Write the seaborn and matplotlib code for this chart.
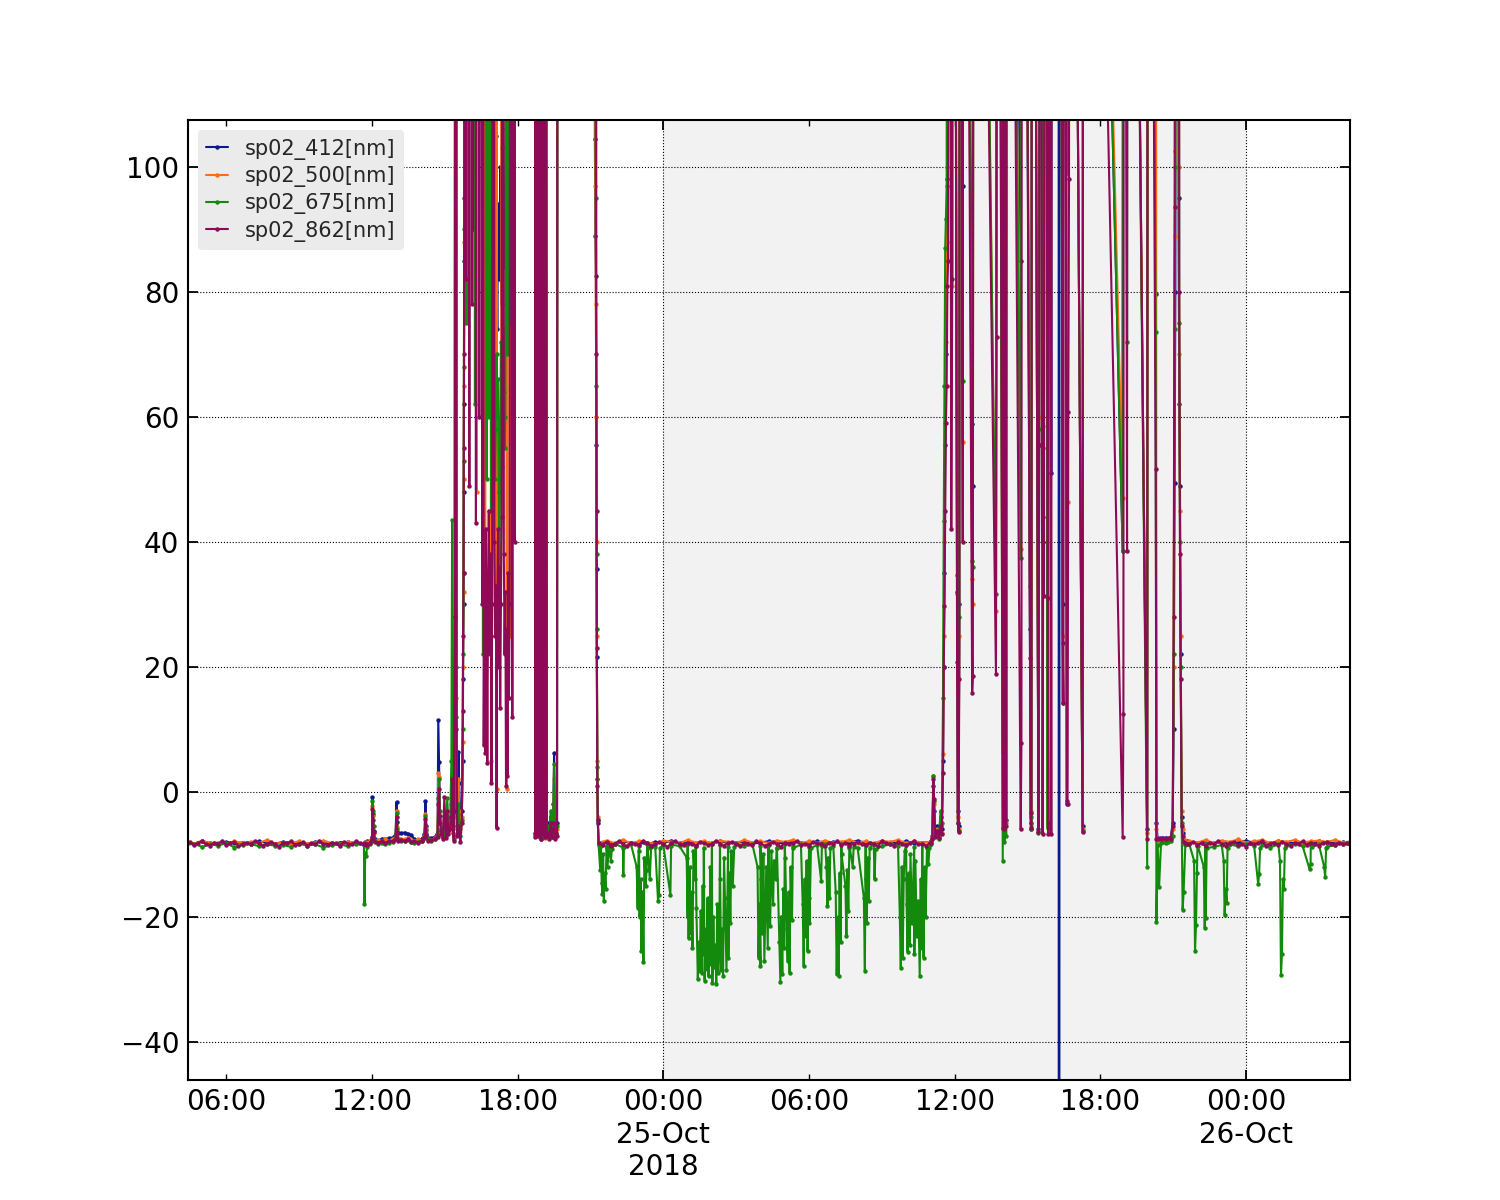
import matplotlib
matplotlib.use("Agg")
import matplotlib.pyplot as plt
import matplotlib.dates as mdates
import pandas as pd
import seaborn as sns

sns.set_style("ticks")
plt.rcParams["font.family"] = ["DejaVu Sans"]

# ------------------------------------------------------------------
# data (hours are counted from 2018-10-24 00:00, 300 = off-scale high)
# ------------------------------------------------------------------
DAY0 = pd.Timestamp("2018-10-24 00:00")
channels = ["sp02_412[nm]", "sp02_500[nm]", "sp02_675[nm]", "sp02_862[nm]"]
colors = ["#0a1a8c", "#ff6a13", "#138a0c", "#8e0a57"]

# quiet baseline stretches (862 sampled every 10 min, the rest every 20 min)
start_24am = "2018-10-24 04:20"
start_night = "2018-10-24 21:20"
start_25pm = "2018-10-25 21:40"

sp862_24am = [-8.3, -8.0, -8.5, -8.2, -7.9, -8.4, -8.6, -8.1, -8.3, -7.8,
              -8.5, -8.2, -8.0, -8.7, -8.3, -8.1, -8.4, -7.9, -8.2, -8.6,
              -8.3, -8.0, -8.4, -8.8, -8.1, -8.2, -7.9, -8.5, -8.3, -8.0,
              -8.6, -8.2, -8.4, -7.8, -8.3, -8.5, -8.1, -8.2, -8.7, -8.0,
              -8.3, -8.4, -7.9, -8.2, -8.3]
sp412_24am = [-8.1, -8.3, -7.9, -8.2, -8.4, -8.0, -8.2, -8.1, -8.3, -7.9,
              -8.2, -8.3, -8.0, -8.2, -8.1, -8.4, -8.0, -8.2, -8.3, -8.1,
              -8.0, -8.2, -8.3]
sp500_24am = [-8.0, -8.3, -7.8, -8.2, -8.1, -8.4, -7.9, -8.2, -8.0, -8.2,
              -7.7, -8.3, -8.1, -8.2, -7.9, -8.3, -8.1, -7.8, -8.2, -8.3,
              -8.0, -8.1, -8.2]
sp675_24am = [-8.5, -8.3, -8.8, -8.4, -8.6, -8.2, -8.9, -8.5, -8.3, -8.7,
              -8.4, -8.6, -8.5, -8.8, -8.3, -8.6, -8.4, -8.9, -8.5, -8.4,
              -8.7, -8.3, -8.5]

sp862_night = [-8.2, -8.5, -8.0, -8.6, -8.3, -7.9, -8.4, -8.7, -8.1, -8.3,
               -8.5, -7.8, -8.2, -8.6, -8.4, -8.0, -8.3, -8.8, -8.2, -7.9,
               -8.4, -8.5, -8.1, -8.3, -8.7, -8.0, -8.2, -8.5, -8.4, -7.8,
               -8.3, -8.6, -8.2, -8.0, -8.4, -8.7, -8.1, -8.3, -8.5, -7.9,
               -8.2, -8.6, -8.4, -8.0, -8.3, -8.8, -8.1, -8.4, -8.2, -7.9,
               -8.5, -8.3, -8.6, -8.0, -8.2, -8.4, -8.7, -8.1, -8.3, -7.8,
               -8.5, -8.2, -8.6, -8.3, -8.0, -8.4, -8.5, -8.1, -8.3, -8.7,
               -7.9, -8.2, -8.4, -8.6, -8.0, -8.3, -8.5, -8.2, -7.9, -8.4,
               -8.3, -8.6, -8.1]
sp412_night = [-8.2, -8.0, -8.3, -7.9, -8.2, -8.1, -8.4, -8.0, -8.2, -7.8,
               -8.2, -8.1, -8.3, -8.0, -8.2, -7.9, -8.2, -8.1, -8.0, -8.3,
               -8.1, -7.9, -8.2, -8.2, -8.0, -8.1, -8.3, -7.9, -8.2, -8.0,
               -8.2, -8.1, -7.8, -8.2, -8.3, -8.0, -8.1, -8.2, -7.9, -8.2,
               -8.1, -8.0]
sp500_night = [-8.1, -7.8, -8.2, -7.7, -8.2, -7.9, -8.1, -8.3, -7.8, -8.0,
               -8.2, -7.7, -8.1, -7.9, -8.2, -7.8, -8.0, -8.2, -7.7, -8.1,
               -7.9, -8.2, -7.8, -8.0, -7.7, -8.2, -7.9, -8.1, -7.8, -8.2,
               -8.0, -7.7, -8.1, -7.9, -8.2, -7.8, -8.0, -7.7, -8.2, -7.9,
               -8.1, -8.0]
sp675_night = [-8.5, -8.7, -8.3, -8.9, -8.4, -8.6, -8.2, -8.8, -8.5, -8.4,
               -8.7, -8.3, -8.6, -8.9, -8.4, -8.5, -8.8, -8.3, -8.6, -8.4,
               -8.7, -8.5, -8.9, -8.3, -8.6, -8.4, -8.8, -8.5, -8.3, -8.7,
               -8.4, -8.6, -8.9, -8.5, -8.3, -8.7, -8.4, -8.6, -8.5, -8.8,
               -8.4, -8.5]

sp862_25pm = [-8.3, -8.0, -8.5, -8.2, -8.7, -8.1, -8.4, -7.9, -8.3, -8.6,
              -8.2, -8.0, -8.5, -8.3, -8.8, -8.1, -8.4, -8.2, -7.9, -8.6,
              -8.3, -8.1, -8.5, -8.0, -8.4, -8.7, -8.2, -8.3, -7.9, -8.5,
              -8.1, -8.4, -8.6, -8.2, -8.0, -8.3, -8.5, -8.1, -8.4, -8.2, -8.3]
sp412_25pm = [-8.1, -8.2, -7.9, -8.2, -8.0, -8.3, -8.1, -7.8, -8.2, -8.0,
              -8.2, -7.9, -8.1, -8.2, -8.0, -8.3, -7.9, -8.1, -8.2, -8.0, -8.1]
sp500_25pm = [-7.9, -8.1, -7.7, -8.2, -7.8, -8.0, -7.6, -8.1, -7.9, -7.7,
              -8.2, -7.8, -8.0, -7.7, -8.1, -7.9, -7.8, -8.0, -7.7, -8.1, -7.9]
sp675_25pm = [-8.4, -8.6, -8.3, -8.8, -8.5, -8.4, -8.7, -8.3, -8.6, -8.5,
              -8.9, -8.4, -8.6, -8.3, -8.7, -8.5, -8.4, -8.8, -8.5, -8.3, -8.6]

# 24-Oct midday bumps and first cloud burst
hours_24pm = [11.69, 11.72, 11.75, 11.80, 11.90, 12.00, 12.02, 12.04, 12.07, 12.12,
              12.25, 12.40, 12.55, 12.70, 12.85, 12.97, 13.01, 13.04, 13.08, 13.20,
              13.35, 13.50, 13.62, 13.75, 13.90, 14.05, 14.16, 14.20, 14.24, 14.30,
              14.45, 14.60, 14.70, 14.73, 14.76, 14.80, 14.86, 14.92, 14.98, 15.04,
              15.10, 15.15, 15.22, 15.27, 15.30, 15.33, 15.37, 15.41, 15.43, 15.46,
              15.48, 15.51, 15.56, 15.59, 15.64, 15.70, 15.74, 15.75, 15.77, 15.78,
              15.79, 15.80, 15.82]
sp412_24pm = [-8.1, -8.0, -8.2, -7.9, -8.0, -7.2, -0.8, -3.5, -6.2, -7.6,
              -7.8, -7.5, -7.6, -7.4, -7.3, -6.8, -1.6, -4.8, -6.5, -6.6,
              -6.5, -6.7, -6.9, -7.6, -7.7, -7.5, -6.8, -1.5, -5.4, -7.3,
              -7.4, -7.2, -6.4, 11.5, 4.8, -3.8, -6.0, -6.8, -5.5, -6.5,
              -4.0, -6.2, -5.0, -3.0, -2.0, -5.5, -7.0, -3.0, 300, 300,
              20.0, -4.0, 6.4, 1.5, -5.0, -3.0, 5.0, 18, 30, 48,
              62, 85, 300]
sp500_24pm = [-8.2, -8.1, -8.0, -8.1, -7.9, -7.5, -2.2, -3.8, -6.5, -7.8,
              -7.7, -7.9, -7.6, -7.8, -7.5, -7.2, -3.0, -5.6, -7.3, -7.5,
              -7.6, -7.4, -7.7, -7.8, -7.6, -7.8, -7.2, -3.6, -6.0, -7.5,
              -7.7, -7.4, -6.8, 3.0, 2.4, -4.5, -6.5, -7.0, -6.0, -6.8,
              -4.5, -6.6, -5.5, -2.0, 1.0, -4.0, -7.2, 5.0, 300, 300,
              15.0, -5.0, 2.0, -3.0, -6.0, -4.0, 8.0, 20, 32, 50,
              65, 88, 300]
sp675_24pm = [-18.0, -9.8, -10.3, -8.8, -8.4, -7.8, -1.5, -3.0, -5.5, -7.9,
              -8.3, -8.1, -8.4, -8.2, -8.0, -7.2, -3.4, -6.0, -7.6, -7.9,
              -7.8, -7.7, -8.0, -8.1, -8.0, -7.9, -7.3, -3.9, -6.1, -7.6,
              -7.8, -7.5, -6.9, -1.0, 2.1, -3.0, -6.2, -7.2, -5.8, -7.0,
              -1.0, -5.5, -4.5, 5.0, 43.5, 8.0, -7.5, 10.0, 300, 300,
              12.0, -6.0, -2.0, -5.0, -7.0, -4.5, 10.0, 22, 35, 53,
              68, 90, 300]
sp862_24pm = [-8.4, -8.2, -8.3, -8.5, -8.2, -7.6, -2.8, -4.5, -6.4, -8.0,
              -8.1, -7.9, -8.2, -7.8, -7.9, -7.5, -4.0, -6.4, -7.8, -7.7,
              -7.9, -7.6, -8.0, -7.9, -8.1, -7.8, -7.4, -4.4, -6.9, -7.9,
              -7.7, -7.6, -7.2, -2.0, 0.5, -5.0, -6.8, -7.5, -0.8, -7.3,
              -3.0, -6.8, -6.0, -4.0, 2.0, -6.5, -7.8, 28.0, 300, 300,
              10.0, -7.0, -5.5, -6.5, -8.0, -5.0, 13.0, 25, 35, 55,
              70, 95, 300]

# 24-Oct afternoon, signal mostly off-scale with dips
hours_24storm = [15.86, 15.89, 15.93, 15.98, 16.01, 16.04, 16.07, 16.10, 16.13, 16.17,
                 16.20, 16.24, 16.28, 16.31, 16.35, 16.39, 16.42, 16.46, 16.50, 16.54,
                 16.57, 16.60, 16.63, 16.66, 16.69, 16.72, 16.75, 16.78, 16.81, 16.84,
                 16.87, 16.90, 16.92, 16.95, 16.98, 17.01, 17.04, 17.07, 17.10, 17.13,
                 17.16, 17.19, 17.22, 17.25, 17.28, 17.31, 17.34, 17.37, 17.40, 17.43,
                 17.46, 17.49, 17.52, 17.55, 17.58, 17.61, 17.64, 17.67, 17.70, 17.74,
                 17.78, 17.83, 17.87, 17.92]
sp412_24storm = [300, 300, 300, 300, 300, 300, 300, 300, 300, 90,
                 300, 300, 300, 300, 300, 300, 300, 300, 300, 300,
                 300, 300, 28, 95, 80, 102, 88, 75, 98, 92,
                 78, 104, 86, 85, 99, 96, 80, 88, 105, 90,
                 74, 94, 90, 82, 100, 95, 78, 103, 88, 93,
                 84, 97, 106, 80, 95, 92, 300, 300, 86, 300,
                 300, 300, 300, 300]
sp500_24storm = [300, 300, 300, 300, 300, 300, 300, 300, 300, 300,
                 300, 300, 300, 48, 300, 300, 300, 300, 300, 300,
                 300, 300, 300, 15, 300, 300, 300, 300, 300, 300,
                 300, 300, 5, 300, 300, 300, 300, 300, 300, 0.5,
                 300, 300, 300, 300, 300, 300, 55, 300, 300, 300,
                 300, 300, 300, 0.5, 300, 300, 300, 25, 300, 300,
                 300, 300, 300, 300]
sp675_24storm = [300, 75, 300, 300, 300, 300, 300, 300, 300, 300,
                 300, 62, 300, 300, 300, 300, 300, 300, 300, 300,
                 22, 300, 300, 300, 300, 50, 300, 300, 60, 300,
                 300, 45, 300, 300, 55, 62, 68, 50, 58, 70,
                 60, 66, 48, 35, 56, 72, 64, 52, 74, 64,
                 55, 60, 300, 300, 70, 300, 300, 75, 300, 300,
                 300, 300, 300, 300]
sp862_24storm = [82, 300, 300, 300, 49, 300, 300, 300, 78, 300,
                 300, 300, 43, 300, 300, 300, 60, 300, 300, 30,
                 300, 7.5, 35, 6.2, 42, 28, 4.6, 30, 45, 22,
                 38, 25, 1.4, 30, 300, 300, 40, 25, 33, -5.8,
                 28, 42, 20, 36, 13.4, 30, 44, 300, 300, 38,
                 22, 32, 1.0, 26, 2.5, 35, 15, 30, 300, 300,
                 12, 300, 40, 300]

# 24-Oct evening dips and sunset drop
hours_24dusk = [18.70, 18.73, 18.76, 18.80, 18.83, 18.88, 18.91, 18.96, 18.99, 19.04,
                19.07, 19.12, 19.15, 19.20, 19.25, 19.30, 19.36, 19.41, 19.47, 19.50,
                19.53, 19.58, 19.62, 19.65, 21.15, 21.18, 21.20, 21.22, 21.24, 21.25,
                21.26, 21.28, 21.30]
sp412_24dusk = [300, -6.5, 300, -7.0, 300, -6.8, 300, -7.5, 300, -6.5,
                300, -7.0, 300, -6.8, -5.0, -6.5, -4.0, -6.8, -2.0, 6.2,
                -3.0, -6.0, -5.0, 300, 300, 104.5, 89, 82.6, 55.5, 35.6,
                21.6, 2.0, -5.0]
sp500_24dusk = [300, -7.0, 300, 35, 300, -7.2, 300, -7.0, 300, -6.8,
                300, -7.4, 300, -7.0, -6.0, -7.2, -5.5, -7.0, -4.0, 2.0,
                -5.0, -6.5, -6.0, 300, 300, 300, 97, 78, 60, 40,
                25, 5.0, -4.0]
sp675_24dusk = [300, -6.8, 300, 30, 300, 25, 300, -7.3, 300, -7.0,
                300, -7.2, 300, -6.5, -5.5, -7.0, -3.0, -7.2, -3.5, 4.5,
                -4.0, -6.5, -5.5, 300, 300, 300, 300, 95, 65, 38,
                26, 4.0, -4.5]
sp862_24dusk = [300, -7.2, 300, -6.5, 300, -7.0, 300, -7.5, 300, -6.8,
                300, -7.2, 300, -7.0, -6.5, -7.5, -5.0, -7.2, -6.0, -5.0,
                -7.5, -6.8, -7.0, 300, 300, 300, 300, 300, 70, 45,
                23, 1.0, -4.5]

# 25-Oct daytime
hours_25day = [35.02, 35.08, 35.12, 35.15, 35.20, 35.28, 35.35, 35.42, 35.47, 35.52,
               35.55, 35.58, 35.61, 35.64, 35.67, 35.70, 35.73, 35.76, 35.86, 35.90,
               35.94, 36.10, 36.13, 36.16, 36.19, 36.22, 36.33, 36.36, 36.72, 36.75,
               36.78, 37.70, 37.73, 37.76, 37.98, 38.01, 38.05, 38.08, 38.12, 38.15,
               38.72, 38.75, 38.78, 39.10, 39.13, 39.16, 39.19, 39.45, 39.48, 39.51,
               39.62, 39.65, 39.68, 39.71, 39.83, 39.86, 39.89, 39.98, 40.01, 40.28,
               40.30, 40.32, 40.45, 40.48, 40.51, 40.62, 40.65, 40.68, 40.71, 40.74,
               41.27, 41.30, 42.92, 42.95, 42.98, 43.10, 43.13, 43.93, 43.96, 44.28,
               44.31, 44.36, 44.42, 44.50, 44.60, 44.70, 44.80, 44.90, 44.98, 45.02,
               45.06, 45.09, 45.12, 45.22, 45.25, 45.28, 45.31, 45.35, 45.39, 45.43,
               45.50, 45.58]
sp412_25day = [-7.8, -7.0, 1.0, -3.0, -6.5, -5.5, -7.0, -4.0, -6.0, 5.0,
               20.0, 35.0, 55.5, 70.0, 85.0, 98.0, 300, 300, 300, 300,
               300, 32.0, -3.0, -5.5, 30.0, 300, 97.0, 300, 58.9, 49.0,
               300, 300, 300, 300, 6.4, 300, -5.0, 300, -4.5, 300,
               85.0, 300, 300, 26.0, -5.0, -6.0, 300, -6.0, 55.5, 300,
               40.0, 300, 300, 300, -5.0, 300, 300, 51.0, 300, 300,
               -800, 300, 30.0, 300, 300, -2.0, 300, 300, 300, 300,
               -5.5, 300, 38.5, 300, 300, 300, 300, -6.0, 300, 79.6,
               -5.0, -7.5, -7.6, -7.4, -7.5, -7.3, -7.5, -7.2, -5.0, 10.0,
               49.4, 80.0, 300, 95.0, 62.0, 49.0, 22.0, -4.0, -6.5, -7.8,
               -8.0, -7.9]
sp500_25day = [-8.0, -7.2, 2.5, -2.0, -6.8, -6.0, -7.2, -5.0, -6.5, 6.0,
               25.0, 40.0, 59.0, 72.0, 88.0, 100.0, 300, 300, 300, 81.0,
               300, 31.7, -4.0, -6.0, 25.0, 300, 56.0, 300, 34.0, 30.0,
               300, 29.0, 300, 300, -6.0, 300, -6.5, 300, -5.0, 300,
               38.9, 300, 300, 36.0, -3.0, -5.5, 300, -6.2, 60.0, 300,
               58.5, 300, 300, 300, -5.5, 300, 300, 300, 300, 300,
               300, 300, 25.0, 300, 300, 98.0, 46.4, 300, 300, 300,
               -6.0, 300, 47.0, 300, 300, 300, 300, -6.5, 300, 300,
               -6.0, -7.8, -7.5, -7.8, -7.6, -7.5, -7.7, -7.4, -6.0, 20.0,
               89.0, 102.6, 300, 100.0, 70.0, 45.0, 25.0, -3.0, -6.0, -7.6,
               -7.9, -8.1]
sp675_25day = [-8.3, -7.5, 2.6, -1.5, -7.0, -6.5, -7.5, -3.0, -5.0, 15.0,
               43.4, 65.0, 87.0, 91.7, 97.0, 300, 300, 300, 300, 300,
               300, 34.7, -5.0, -6.2, 28.0, 300, 65.7, 300, 37.0, 36.0,
               300, 31.7, 300, 300, -11.0, 300, -8.0, 300, -7.0, 300,
               37.5, 300, 300, 33.0, -4.0, -6.0, 300, -6.5, 58.0, 300,
               55.0, 300, 300, 300, -5.8, 300, 300, 300, 300, 300,
               300, 300, 14.3, 300, 300, 99.0, 300, 300, 300, 300,
               -6.2, 300, 38.5, 300, 300, 72.0, 300, -12.0, 300, 73.6,
               -20.8, -8.5, -15.2, -8.2, -8.0, -8.1, -8.0, -7.8, -7.0, 22.0,
               74.0, 100.0, 300, 300, 75.0, 40.0, 20.0, -5.0, -18.9, -16.0,
               -8.5, -8.3]
sp862_25day = [-8.1, -7.6, 2.0, -1.1, -7.2, -6.2, -7.3, -5.5, -6.8, 3.0,
               20.0, 29.8, 45.0, 59.0, 65.0, 81.0, 85.0, 300, 42.0, 82.0,
               300, 20.8, -4.9, -6.4, 18.0, 300, 40.0, 300, 15.8, 18.5,
               300, 18.9, 72.8, 300, -5.7, 300, -6.0, 300, -5.5, 300,
               -6.0, 7.9, 300, 21.5, -3.4, -5.7, 300, -6.4, 55.5, 300,
               -6.8, 44.0, 31.3, 300, 31.0, -6.8, 300, -6.8, 300, 300,
               300, 300, 23.8, 14.3, 300, -1.5, -2.0, 60.8, 98.0, 300,
               -6.4, 300, -7.2, 12.5, 300, 38.5, 300, -7.5, 300, 51.7,
               -7.5, -7.6, -7.4, -7.6, -7.3, -7.5, -7.4, -7.5, -5.5, 28.0,
               93.6, 300, 300, 300, 80.0, 38.0, 18.0, -5.5, -7.0, -8.0,
               -8.2, -8.4]

# negative excursions of the 675 nm channel during the clear periods
dip_hours_night = [21.40, 21.43, 21.46, 21.49, 21.52, 21.55, 21.58, 21.62, 21.66, 21.70,
                   21.76, 21.84, 21.88, 22.35, 22.38, 22.90, 22.94, 22.98, 23.02, 23.06,
                   23.10, 23.14, 23.18, 23.22, 23.27, 23.31, 23.36, 23.44, 23.50, 23.78,
                   23.82, 23.86, 24.29, 24.32, 24.96, 25.00, 25.04, 25.08, 25.12, 25.16,
                   25.20, 25.24, 25.30, 25.36, 25.42, 25.46, 25.50, 25.54, 25.58, 25.62,
                   25.66, 25.70, 25.74, 25.78, 25.82, 25.86, 25.90, 25.94, 25.98, 26.02,
                   26.06, 26.10, 26.14, 26.18, 26.22, 26.26, 26.30, 26.34, 26.38, 26.42,
                   26.46, 26.50, 26.56, 26.60, 26.64, 26.68, 26.72, 26.76, 26.80, 26.86,
                   26.92, 27.88, 27.92, 27.96, 28.00, 28.04, 28.08, 28.12, 28.16, 28.20,
                   28.24, 28.30, 28.34, 28.40, 28.45, 28.52, 28.56, 28.62, 28.68, 28.78,
                   28.82, 28.86, 28.90, 28.94, 28.98, 29.02, 29.08, 29.12, 29.16, 29.20,
                   29.24, 29.30, 29.36, 29.74, 29.78, 29.82, 29.86, 29.90, 29.94, 29.98,
                   30.02, 30.08, 30.50, 30.53, 30.72, 30.76, 30.80, 30.84, 30.88, 31.10,
                   31.14, 31.18, 31.22, 31.26, 31.30, 31.34, 31.50, 31.54, 31.58, 31.62,
                   31.66, 31.80, 31.84, 32.26, 32.30, 32.34, 32.38, 32.42, 32.46, 32.50,
                   32.70, 32.74, 33.74, 33.78, 33.82, 33.86, 33.90, 33.94, 34.02, 34.06,
                   34.10, 34.14, 34.18, 34.24, 34.28, 34.34, 34.38, 34.44, 34.50, 34.56,
                   34.60, 34.64, 34.68, 34.72, 34.76, 34.80, 34.86, 34.92, 34.96]
dip_vals_night = [-12.5, -8.6, -14.6, -16.3, -10.0, -17.4, -13.0, -15.5, -9.0, -12.0,
                  -8.7, -11.0, -9.2, -13.3, -8.8, -12.0, -18.5, -9.5, -20.0, -14.0,
                  -25.5, -16.0, -27.2, -10.5, -15.0, -12.5, -9.0, -14.0, -8.8, -17.4,
                  -16.5, -9.0, -16.5, -8.7, -10.5, -20.0, -23.4, -12.0, -22.5, -16.0,
                  -25.0, -9.5, -14.0, -18.5, -30.0, -24.0, -28.7, -19.0, -29.0, -15.0,
                  -26.0, -30.2, -22.0, -28.4, -17.0, -29.5, -25.0, -12.0, -27.5, -30.5,
                  -20.0, -28.0, -24.5, -30.7, -18.0, -29.0, -26.0, -14.0, -28.5, -22.0,
                  -29.5, -10.5, -21.5, -28.5, -17.0, -26.5, -13.0, -21.0, -9.5, -15.0,
                  -8.8, -12.0, -26.5, -18.0, -27.8, -14.0, -22.5, -10.0, -27.0, -19.5,
                  -12.0, -25.0, -16.0, -21.5, -9.5, -18.0, -11.0, -14.0, -9.0, -24.0,
                  -30.4, -20.0, -29.1, -15.5, -25.0, -10.5, -22.0, -27.0, -16.0, -29.0,
                  -12.0, -20.5, -9.0, -18.0, -27.8, -14.0, -23.0, -11.0, -25.5, -17.0,
                  -21.0, -9.0, -14.2, -8.6, -12.0, -18.2, -10.5, -17.0, -9.0, -16.0,
                  -29.1, -20.0, -29.4, -13.0, -24.0, -10.0, -15.0, -23.0, -12.5, -19.0,
                  -9.0, -12.0, -8.8, -17.0, -28.6, -14.0, -21.0, -10.5, -17.5, -9.0,
                  -14.0, -9.2, -20.0, -28.1, -12.0, -26.5, -14.0, -9.5, -18.0, -25.6,
                  -13.0, -24.5, -10.0, -21.0, -16.0, -26.0, -11.0, -23.0, -17.5, -29.4,
                  -14.0, -25.0, -19.0, -26.5, -12.0, -20.0, -9.0, -11.5, -9.0]
dip_hours_late = [45.86, 45.90, 45.94, 45.98, 46.02, 46.26, 46.30, 46.34, 46.38, 47.08,
                  47.12, 47.16, 47.20, 47.24, 48.50, 48.54, 48.58, 49.40, 49.44, 49.48,
                  49.52, 49.56, 49.60, 50.62, 50.66, 50.70, 51.22, 51.26, 51.30]
dip_vals_late = [-11.0, -25.4, -21.3, -13.0, -8.7, -12.0, -21.8, -20.2, -9.0, -11.0,
                 -19.7, -15.5, -17.8, -9.0, -14.7, -13.2, -9.0, -11.0, -29.3, -26.0,
                 -14.0, -15.5, -9.0, -12.4, -11.5, -8.8, -12.0, -13.6, -9.0]

# axis ticks
major_ticks = ["2018-10-25 00:00", "2018-10-26 00:00"]
major_labels = ["00:00\n25-Oct\n2018", "00:00\n26-Oct"]
minor_ticks = ["2018-10-24 06:00", "2018-10-24 12:00", "2018-10-24 18:00",
               "2018-10-25 06:00", "2018-10-25 12:00", "2018-10-25 18:00"]
minor_labels = ["06:00", "12:00", "18:00", "06:00", "12:00", "18:00"]
y_ticks = [-40, -20, 0, 20, 40, 60, 80, 100]


# ------------------------------------------------------------------
# assemble one frame per channel
# ------------------------------------------------------------------
def build(base_parts, event_parts):
    frames = []
    for start, step, vals in base_parts:
        t = pd.date_range(start, periods=len(vals), freq=step)
        frames.append(pd.DataFrame({"time": t, "value": vals}))
    for hrs, vals in event_parts:
        assert len(hrs) == len(vals), (len(hrs), len(vals))
        t = DAY0 + pd.to_timedelta(hrs, unit="h")
        frames.append(pd.DataFrame({"time": t, "value": vals}))
    return pd.concat(frames).sort_values("time").reset_index(drop=True)


event_hours = [hours_24pm, hours_24storm, hours_24dusk, hours_25day]
events = {
    "412": [sp412_24pm, sp412_24storm, sp412_24dusk, sp412_25day],
    "500": [sp500_24pm, sp500_24storm, sp500_24dusk, sp500_25day],
    "675": [sp675_24pm, sp675_24storm, sp675_24dusk, sp675_25day],
    "862": [sp862_24pm, sp862_24storm, sp862_24dusk, sp862_25day],
}

data = {
    "412": build([(start_24am, "20min", sp412_24am), (start_night, "20min", sp412_night),
                  (start_25pm, "20min", sp412_25pm)],
                 list(zip(event_hours, events["412"]))),
    "500": build([(start_24am, "20min", sp500_24am), (start_night, "20min", sp500_night),
                  (start_25pm, "20min", sp500_25pm)],
                 list(zip(event_hours, events["500"]))),
    "675": build([(start_24am, "20min", sp675_24am), (start_night, "20min", sp675_night),
                  (start_25pm, "20min", sp675_25pm)],
                 list(zip(event_hours, events["675"]))
                 + [(dip_hours_night, dip_vals_night), (dip_hours_late, dip_vals_late)]),
    "862": build([(start_24am, "10min", sp862_24am), (start_night, "10min", sp862_night),
                  (start_25pm, "10min", sp862_25pm)],
                 list(zip(event_hours, events["862"]))),
}

# ------------------------------------------------------------------
# plot
# ------------------------------------------------------------------
fig, ax = plt.subplots(figsize=(15, 12), dpi=100)
fig.subplots_adjust(left=0.125, right=0.9, bottom=0.1, top=0.9)

for key, name, col in zip(["412", "500", "675", "862"], channels, colors):
    sns.lineplot(data=data[key], x="time", y="value", ax=ax, color=col, label=name,
                 marker="o", markersize=3.2, markeredgewidth=0, linewidth=1.5,
                 estimator=None, sort=True)

ax.axvspan(pd.Timestamp("2018-10-25 00:00"), pd.Timestamp("2018-10-26 00:00"),
           color="#f2f2f2", lw=0, zorder=0)

ax.set_xlim(pd.Timestamp("2018-10-24 04:24"), pd.Timestamp("2018-10-26 04:17"))
ax.set_ylim(-46.1, 107.5)

ax.set_xticks(mdates.date2num(pd.to_datetime(major_ticks)), major_labels)
ax.set_xticks(mdates.date2num(pd.to_datetime(minor_ticks)), minor_labels, minor=True)
ax.set_yticks(y_ticks)

ax.tick_params(which="both", direction="in", top=True, right=True,
               labelsize=20, pad=6, colors="black")
ax.tick_params(which="major", length=7, width=1.3)
ax.tick_params(which="minor", length=4, width=1.0)

ax.grid(True, which="major", axis="both", linestyle=":", color="black", linewidth=0.8)
ax.set_axisbelow(True)
for sp in ax.spines.values():
    sp.set_linewidth(1.5)
    sp.set_color("black")

ax.set_xlabel("")
ax.set_ylabel("")

ax.legend(loc="upper left", fontsize=15, handlelength=1.05, handletextpad=0.8,
          borderpad=0.4, labelspacing=0.3, frameon=True, fancybox=True,
          facecolor="#ebebeb", edgecolor="none", framealpha=1.0)

fig.savefig("out.png", dpi=100)
